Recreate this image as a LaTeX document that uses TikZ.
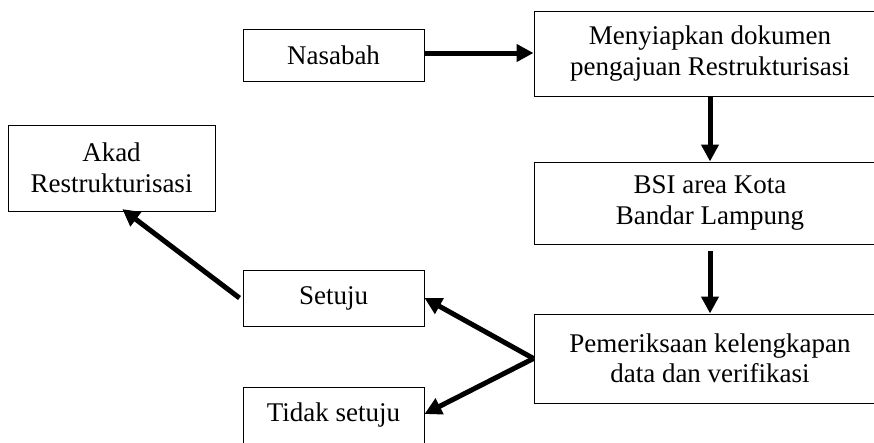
\documentclass[tikz,border=0pt]{standalone}
\usepackage{fontspec}
\setmainfont{Liberation Serif}
\usetikzlibrary{arrows.meta,positioning}
\begin{document}
\begin{tikzpicture}[x=1pt,y=-1pt,
  box/.style={draw=black, line width=1pt, align=center, inner sep=0pt,
    font=\fontsize{27}{30.5}\selectfont},
  flow/.style={line width=5pt, -{Triangle[length=17pt,width=17pt]}}]
\useasboundingbox (0,0) rectangle (874,442);
\clip (0,0) rectangle (874,442);
\node[box, minimum width=181pt, minimum height=52pt] (nas) at (333.5,55) {Nasabah};
\node[box, minimum width=352pt, minimum height=85pt] (men) at (710,53.5) {Menyiapkan dokumen\\pengajuan Restrukturisasi};
\node[box, minimum width=352pt, minimum height=82pt] (bsi) at (710,203) {BSI area Kota\\Bandar Lampung};
\node[box, minimum width=352pt, minimum height=89pt] (pem) at (710,358.5) {Pemeriksaan kelengkapan\\data dan verifikasi};
\node[box, minimum width=207pt, minimum height=86pt] (akad) at (111.5,168) {Akad\\Restrukturisasi};
\node[box, minimum width=181pt, minimum height=56pt] (set) at (333.5,298) {Setuju};
\node[box, minimum width=181pt, minimum height=56pt] (tdk) at (333.5,415) {Tidak setuju};
\draw[flow] ([yshift=2pt]nas.east) -- ([yshift=2pt]nas.east -| men.west);
\draw[flow] (men.south) -- (bsi.north);
\draw[flow, shorten <=6pt] (bsi.south) -- (pem.north);
\draw[flow] (pem.west) -- (set.east);
\draw[flow] (pem.west) -- ([yshift=1pt]tdk.east);
\draw[flow, shorten >=-4pt] ([xshift=-3pt]set.west) -- ([xshift=14pt]akad.south);
\end{tikzpicture}
\end{document}
